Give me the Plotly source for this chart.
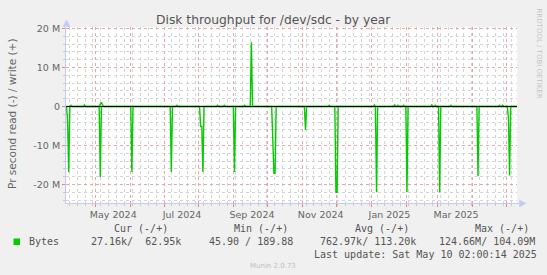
import plotly.graph_objects as go

# ---- data ----
read_dates = [
    "2024-04-05 12:00", "2024-04-06 12:00", "2024-04-07 12:00", "2024-04-08 12:00",
    "2024-05-04 12:00", "2024-05-05 12:00", "2024-05-06 12:00",
    "2024-06-01 12:00", "2024-06-02 12:00", "2024-06-03 12:00",
    "2024-07-06 12:00", "2024-07-07 12:00", "2024-07-08 12:00",
    "2024-08-01 12:00", "2024-08-02 12:00", "2024-08-03 12:00", "2024-08-04 12:00", "2024-08-05 12:00",
    "2024-08-31 12:00", "2024-09-01 12:00", "2024-09-02 12:00",
    "2024-10-04 12:00", "2024-10-06 12:00", "2024-10-07 12:00", "2024-10-08 12:00",
    "2024-11-02 12:00", "2024-11-03 12:00", "2024-11-04 12:00",
    "2024-11-29 12:00", "2024-11-30 12:00", "2024-12-01 12:00", "2024-12-02 12:00",
    "2025-01-04 12:00", "2025-01-05 12:00", "2025-01-06 12:00",
    "2025-01-31 12:00", "2025-02-01 12:00", "2025-02-02 12:00",
    "2025-03-01 12:00", "2025-03-02 12:00", "2025-03-03 12:00",
    "2025-04-04 12:00", "2025-04-05 12:00", "2025-04-06 12:00",
    "2025-05-01 12:00", "2025-05-02 12:00", "2025-05-03 12:00", "2025-05-04 12:00",
    "2025-05-10 00:00",
]
read_bytes = [
    0, 3.6e6, 16.8e6, 0,
    0, 18.1e6, 0,
    0, 16.8e6, 0,
    0, 16.8e6, 0,
    0, 5.1e6, 5.1e6, 16.8e6, 0,
    0, 16.8e6, 0,
    0, 17.1e6, 17.1e6, 0,
    0, 6.0e6, 0,
    0, 22.0e6, 22.0e6, 0,
    0, 22.0e6, 0,
    0, 22.0e6, 0,
    0, 22.0e6, 0,
    0, 17.9e6, 0,
    0, 3.0e6, 17.7e6, 0,
    0,
]

write_dates = [
    "2024-04-05 12:00",
    "2024-04-08 12:00", "2024-04-09 12:00", "2024-04-10 12:00",
    "2024-04-20 12:00", "2024-04-21 12:00", "2024-04-22 12:00",
    "2024-05-04 12:00", "2024-05-05 12:00", "2024-05-06 12:00", "2024-05-07 12:00", "2024-05-08 12:00",
    "2024-07-11 12:00", "2024-07-12 12:00", "2024-07-13 12:00",
    "2024-08-16 12:00", "2024-08-17 12:00", "2024-08-18 12:00",
    "2024-08-22 12:00", "2024-08-23 12:00", "2024-08-24 12:00",
    "2024-09-09 12:00", "2024-09-10 12:00", "2024-09-11 12:00",
    "2024-09-15 12:00", "2024-09-16 12:00", "2024-09-17 12:00",
    "2024-11-23 12:00", "2024-11-24 12:00", "2024-11-25 12:00",
    "2025-01-02 12:00", "2025-01-03 12:00", "2025-01-04 12:00",
    "2025-01-20 12:00", "2025-01-21 12:00", "2025-01-22 12:00",
    "2025-01-23 12:00", "2025-01-24 12:00", "2025-01-25 12:00",
    "2025-01-28 12:00", "2025-01-29 12:00", "2025-01-30 12:00",
    "2025-02-22 12:00", "2025-02-23 12:00", "2025-02-24 12:00",
    "2025-02-25 12:00", "2025-02-26 12:00", "2025-02-27 12:00",
    "2025-03-11 12:00", "2025-03-12 12:00", "2025-03-13 12:00",
    "2025-04-23 12:00", "2025-04-24 12:00", "2025-04-25 12:00",
    "2025-04-26 12:00", "2025-04-27 12:00", "2025-04-28 12:00",
    "2025-05-10 00:00",
]
write_bytes = [
    0,
    0, 0.3e6, 0,
    0, 0.4e6, 0,
    0, 0.6e6, 1.1e6, 0.4e6, 0,
    0, 0.3e6, 0,
    0, 0.3e6, 0,
    0, 0.3e6, 0,
    0, 0.3e6, 0,
    0, 16.5e6, 0,
    0, 0.3e6, 0,
    0, 0.4e6, 0,
    0, 0.4e6, 0,
    0, 0.3e6, 0,
    0, 0.3e6, 0,
    0, 0.4e6, 0,
    0, 0.3e6, 0,
    0, 0.3e6, 0,
    0, 0.3e6, 0,
    0, 0.3e6, 0,
    0,
]

month_starts = [
    "2024-05-01", "2024-06-01", "2024-07-01", "2024-08-01", "2024-09-01", "2024-10-01",
    "2024-11-01", "2024-12-01", "2025-01-01", "2025-02-01", "2025-03-01", "2025-04-01", "2025-05-01",
]
label_dates = ["2024-05-17", "2024-07-17", "2024-09-17", "2024-11-17", "2025-01-17", "2025-03-17"]
label_texts = ["May 2024", "Jul 2024", "Sep 2024", "Nov 2024", "Jan 2025", "Mar 2025"]

y_tickvals = [-20e6, -10e6, 0, 10e6, 20e6]
y_ticktext = ["-20 M", "-10 M", "0", "10 M", "20 M"]

legend_name = "Bytes"
col_headers = ["Cur (-/+)", "Min (-/+)", "Avg (-/+)", "Max (-/+)"]
col_values = ["27.16k/\u00a0\u00a062.95k", "45.90 / 189.88", "762.97k/ 113.20k", "124.66M/ 104.09M"]
last_update = "Last update: Sat May 10 02:00:14 2025"

title_text = "Disk throughput for /dev/sdc - by year"
ytitle_text = "Pr second read (-) / write (+)"

# ---- layout geometry ----
W, H = 547, 275
L, R, T, B = 66, 517, 27, 203
pw, ph = R - L, B - T

def px(x):
    return (x - L) / pw

def py(y):
    return (B - y) / ph

GREEN = "#00cc00"
FONT = "DejaVu Sans"
MONO = "DejaVu Sans Mono"
FC = "#666666"
AXC = "#c4cbf2"
MGRID = "#eda3a3"
GRID = "#d4d4d4"

fig = go.Figure()
fig.add_trace(go.Scatter(x=read_dates, y=[-v for v in read_bytes], mode="lines",
                         line=dict(color=GREEN, width=1.4), showlegend=False, hoverinfo="skip"))
fig.add_trace(go.Scatter(x=write_dates, y=write_bytes, mode="lines",
                         line=dict(color=GREEN, width=1.4), showlegend=False, hoverinfo="skip"))
# invisible trace to activate xaxis2 for labels
fig.add_trace(go.Scatter(x=[label_dates[0]], y=[0], xaxis="x2", mode="markers",
                         marker=dict(opacity=0), showlegend=False, hoverinfo="skip"))

xr = ["2024-04-05 02:00", "2025-05-10 02:00"]

fig.update_layout(
    width=W, height=H,
    margin=dict(l=L, r=W - R, t=T, b=H - B, pad=0),
    paper_bgcolor="#f0f0f0", plot_bgcolor="#ffffff",
    font=dict(family=FONT, color=FC, size=10),
    xaxis=dict(
        type="date", range=xr,
        tickmode="array", tickvals=month_starts, ticktext=[""] * len(month_starts),
        showgrid=True, gridcolor=MGRID, griddash="dot", gridwidth=1,
        ticks="outside", ticklen=3, tickcolor="#f08080", tickwidth=1,
        showline=True, linecolor=AXC, linewidth=1,
        zeroline=False, fixedrange=True,
        minor=dict(dtick=7 * 86400000, tick0="2024-04-08", showgrid=True,
                   gridcolor=GRID, griddash="dot", gridwidth=1,
                   ticks="outside", ticklen=2, tickcolor="#c8c8c8"),
    ),
    xaxis2=dict(
        type="date", range=xr, overlaying="x", anchor="y", side="bottom",
        tickmode="array", tickvals=label_dates, ticktext=label_texts,
        showgrid=False, ticks="", showline=False, zeroline=False,
        tickfont=dict(size=9.5, color=FC, family=FONT), ticklabelstandoff=4,
    ),
    yaxis=dict(
        range=[-24.74e6, 20.39e6],
        tickmode="array", tickvals=y_tickvals, ticktext=y_ticktext,
        showgrid=True, gridcolor=MGRID, griddash="dot", gridwidth=1,
        ticks="outside", ticklen=3, tickcolor="#f08080",
        showline=True, linecolor=AXC, linewidth=1,
        zeroline=False, fixedrange=True,
        tickfont=dict(size=9.5, color=FC, family=FONT),
        minor=dict(dtick=2e6, tick0=0, showgrid=True, gridcolor=GRID, griddash="dot",
                   gridwidth=1, ticks="outside", ticklen=2, tickcolor="#c8c8c8"),
    ),
)

shapes = []
# zero line (drawn above data)
shapes.append(dict(type="line", xref="paper", yref="y", x0=0, x1=1, y0=0, y1=0,
                   line=dict(color="#000000", width=1.2), layer="above"))
# axis arrows
shapes.append(dict(type="path", xref="paper", yref="paper",
                   path=f"M {px(63)} {py(26.5)} L {px(66.5)} {py(20)} L {px(70)} {py(26.5)} Z",
                   fillcolor=AXC, line=dict(color=AXC, width=0.5), layer="above"))
shapes.append(dict(type="line", xref="paper", yref="paper", x0=px(517), x1=px(520),
                   y0=py(203.5), y1=py(203.5), line=dict(color=AXC, width=1)))
shapes.append(dict(type="path", xref="paper", yref="paper",
                   path=f"M {px(519.5)} {py(200)} L {px(526)} {py(203.5)} L {px(519.5)} {py(207)} Z",
                   fillcolor=AXC, line=dict(color=AXC, width=0.5), layer="above"))
# legend swatch
shapes.append(dict(type="rect", xref="paper", yref="paper",
                   x0=px(13.5), x1=px(20), y0=py(238.5), y1=py(245),
                   fillcolor=GREEN, line=dict(width=0)))
fig.update_layout(shapes=shapes)

ann = []
ann.append(dict(text=title_text, xref="paper", yref="paper", x=px(273.5), y=py(20),
                xanchor="center", yanchor="middle", showarrow=False,
                font=dict(family=FONT, size=12.3, color="#555555")))
ann.append(dict(text=ytitle_text, xref="paper", yref="paper", x=px(12), y=py(114),
                xanchor="center", yanchor="middle", showarrow=False, textangle=-90,
                font=dict(family=FONT, size=10.5, color=FC)))
ann.append(dict(text="RRDTOOL / TOBI OETIKER", xref="paper", yref="paper", x=px(538.5), y=py(53),
                xanchor="center", yanchor="middle", showarrow=False, textangle=90,
                font=dict(family=FONT, size=7, color="#c4c4c4")))
hdr_x = [111.7, 232, 353, 472.8]
val_x = [89.3, 207, 318, 436.5]
for hx, h in zip(hdr_x, col_headers):
    ann.append(dict(text=h, xref="paper", yref="paper", x=px(hx), y=py(228.6),
                    xanchor="left", yanchor="middle", showarrow=False,
                    font=dict(family=MONO, size=10, color="#555555")))
for vx, v in zip(val_x, col_values):
    ann.append(dict(text=v, xref="paper", yref="paper", x=px(vx), y=py(241.9),
                    xanchor="left", yanchor="middle", showarrow=False,
                    font=dict(family=MONO, size=10, color="#555555")))
ann.append(dict(text=legend_name, xref="paper", yref="paper", x=px(26.5), y=py(241.9),
                xanchor="left", yanchor="middle", showarrow=False,
                font=dict(family=MONO, size=10, color="#555555")))
ann.append(dict(text=last_update, xref="paper", yref="paper", x=px(311.6), y=py(254),
                xanchor="left", yanchor="middle", showarrow=False,
                font=dict(family=MONO, size=10, color="#555555")))
ann.append(dict(text="Munin 2.0.73", xref="paper", yref="paper", x=px(273), y=py(266.3),
                xanchor="center", yanchor="middle", showarrow=False,
                font=dict(family=FONT, size=7, color="#bdbdbd")))
fig.update_layout(annotations=ann)

fig.write_html("out.html", config={"displayModeBar": False})
